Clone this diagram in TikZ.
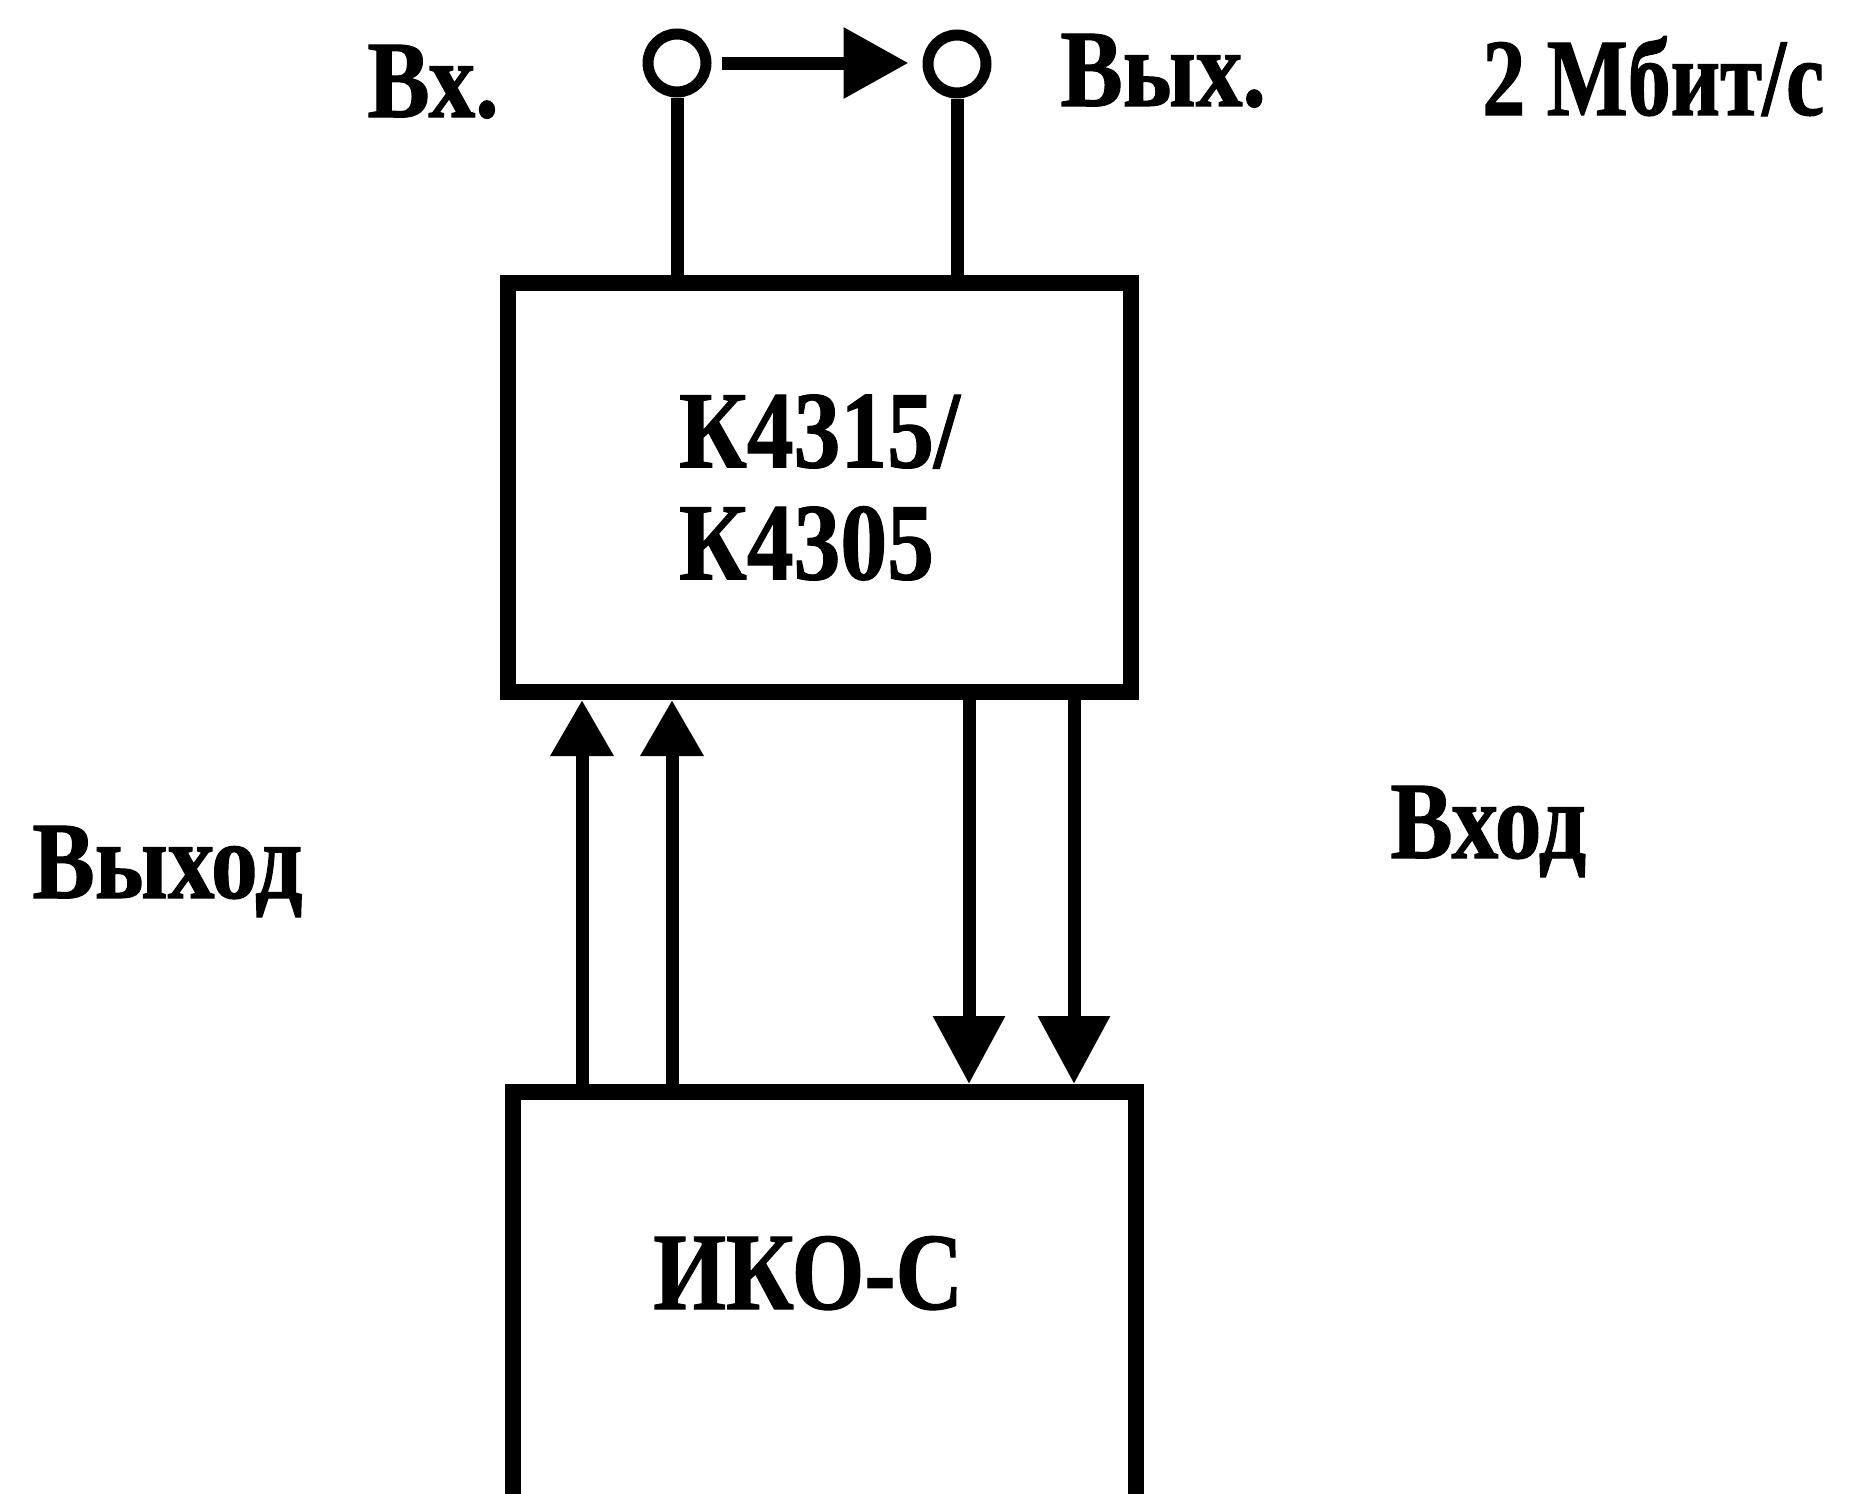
\documentclass[tikz,border=0pt]{standalone}
\usepackage{fontspec}
\newfontfamily\lblfont{Liberation Serif}[FakeStretch=0.85, FakeBold=1]
\newfontfamily\ratefont{Liberation Serif}[FakeStretch=0.78, FakeBold=1]
\usetikzlibrary{arrows.meta}
\tikzset{
  txt/.style={font=\lblfont\bfseries\fontsize{55}{56}\selectfont, inner sep=0pt},
  lbl/.style={txt, anchor=base west},
  blk/.style={draw, rectangle, line width=8pt, inner sep=0pt},
  term/.style={draw, circle, line width=5.5pt, minimum size=29pt, inner sep=0pt},
  lead/.style={line width=6.5pt},
  topsig/.style={line width=6.5pt, -{Triangle[length=32.5pt,width=34pt]}},
  upsig/.style={line width=6.5pt, -{Triangle[length=28pt,width=30pt]}},
  dnsig/.style={line width=6.5pt, -{Triangle[length=34pt,width=34.5pt]}}
}
\begin{document}
\begin{tikzpicture}[x=0.5pt,y=-0.5pt]
\useasboundingbox (0,0) rectangle (1869,1494);
\clip (0,0) rectangle (1869,1494);
% blocks
\node[blk, txt, align=left, minimum width=311.5pt, minimum height=204.5pt] (box1) at (819.5,487.5) {К4315/\\К4305};
\node[blk, minimum width=311.5pt, minimum height=304pt] (box2) at (824.5,1396) {};
\node[lbl] (iko) at (653,1309) {ИКО-С};
% terminals
\node[term] (cin) at (677,63) {};
\node[term] (cout) at (957,64) {};
\draw[lead] (cin.south) -- (cin.south |- box1.north);
\draw[lead] (cout.south) -- (cout.south |- box1.north);
\draw[topsig, shorten <=5pt, shorten >=7pt] (cin.east) -- (cin.east -| cout.west);
% signal arrows
\coordinate (u1) at (582,0);
\coordinate (u2) at (672,0);
\coordinate (d1) at (969,0);
\coordinate (d2) at (1074,0);
\draw[upsig] (u1 |- box2.north) -- (u1 |- box1.south);
\draw[upsig] (u2 |- box2.north) -- (u2 |- box1.south);
\draw[dnsig] (d1 |- box1.south) -- (d1 |- box2.north);
\draw[dnsig] (d2 |- box1.south) -- (d2 |- box2.north);
% labels
\node[lbl] (vx) at (367,117) {Вх.};
\node[lbl] (vyx) at (1060,106) {Вых.};
\node[lbl, font=\ratefont\bfseries\fontsize{55}{56}\selectfont] (rate) at (1482,115) {2 Мбит/с};
\node[lbl] (vyhod) at (32,898) {Выход};
\node[lbl] (vhod) at (1390,858) {Вход};
\end{tikzpicture}
\end{document}
